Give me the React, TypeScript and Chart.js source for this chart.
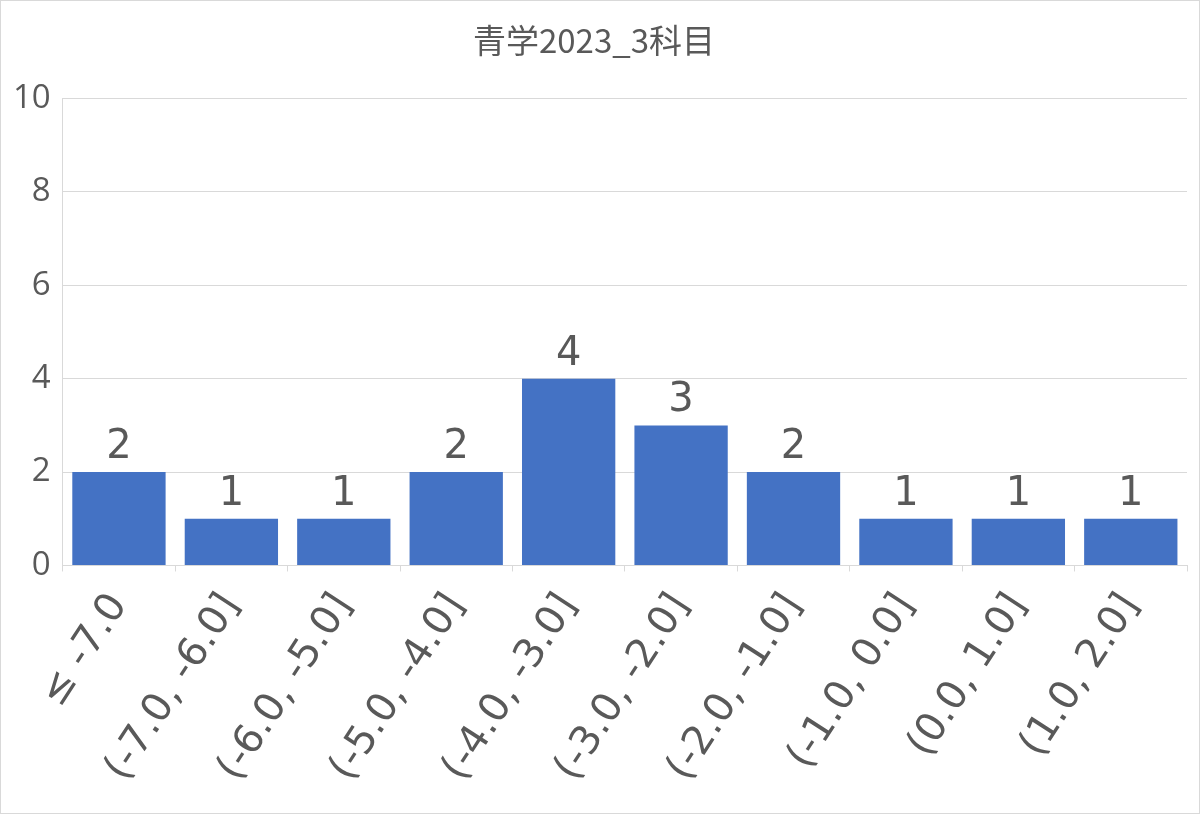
import React, { useEffect, useRef } from 'react';
import { Chart, registerables, Plugin } from 'chart.js';

Chart.register(...registerables);

const title = '青学2023_3科目';
const bins = [
  '≤ -7.0',
  '(-7.0, -6.0]',
  '(-6.0, -5.0]',
  '(-5.0, -4.0]',
  '(-4.0, -3.0]',
  '(-3.0, -2.0]',
  '(-2.0, -1.0]',
  '(-1.0, 0.0]',
  '(0.0, 1.0]',
  '(1.0, 2.0]',
];
const counts = [2, 1, 1, 2, 4, 3, 2, 1, 1, 1];

const TEXT = '#595959';
const GRID = '#d9d9d9';

// writes the count above every bar
const valueLabels: Plugin<'bar'> = {
  id: 'valueLabels',
  afterDatasetsDraw(chart) {
    const ctx = chart.ctx;
    const meta = chart.getDatasetMeta(0);
    ctx.save();
    ctx.fillStyle = TEXT;
    ctx.font = '40px "DejaVu Sans"';
    ctx.textAlign = 'center';
    ctx.textBaseline = 'alphabetic';
    meta.data.forEach((bar, i) => {
      ctx.fillText(String(counts[i]), bar.x, bar.y - 14);
    });
    ctx.restore();
  },
};

const App: React.FC = () => {
  const canvasRef = useRef<HTMLCanvasElement>(null);
  const chartRef = useRef<Chart>();

  useEffect(() => {
    document.body.style.margin = '0';
    if (!canvasRef.current) return;
    const ctx = canvasRef.current.getContext('2d');
    if (!ctx) return;
    if (chartRef.current) chartRef.current.destroy();

    chartRef.current = new Chart(ctx, {
      type: 'bar',
      data: {
        labels: bins,
        datasets: [
          {
            data: counts,
            backgroundColor: '#4472c4',
            barPercentage: 0.83,
            categoryPercentage: 1,
          },
        ],
      },
      options: {
        animation: false,
        responsive: true,
        maintainAspectRatio: false,
        layout: { padding: { top: 20, right: 12, left: 0, bottom: 9 } },
        plugins: {
          legend: { display: false },
          tooltip: { enabled: false },
          title: {
            display: true,
            text: title,
            color: TEXT,
            font: { family: '"Noto Sans CJK JP"', size: 33, weight: 'normal' },
            padding: { top: 0, bottom: 38 },
          },
        },
        scales: {
          x: {
            offset: true,
            border: { color: GRID, width: 1 },
            grid: {
              drawOnChartArea: false,
              color: GRID,
              tickLength: 6,
              offset: true,
            },
            ticks: {
              color: TEXT,
              font: { family: '"DejaVu Sans"', size: 40 },
              minRotation: 57,
              maxRotation: 57,
              padding: 14,
              autoSkip: false,
            },
          },
          y: {
            min: 0,
            max: 10,
            border: { color: GRID, width: 1 },
            grid: { color: GRID, drawTicks: false },
            ticks: {
              stepSize: 2,
              color: TEXT,
              font: { family: '"Open Sans"', size: 33 },
              padding: 12,
            },
          },
        },
      },
      plugins: [valueLabels],
    });

    return () => {
      if (chartRef.current) {
        chartRef.current.destroy();
        chartRef.current = undefined;
      }
    };
  }, []);

  return (
    <div
      style={{
        width: 1200,
        height: 814,
        boxSizing: 'border-box',
        border: '1px solid #d9d9d9',
        position: 'relative',
        background: '#fff',
      }}
    >
      <canvas ref={canvasRef}></canvas>
    </div>
  );
};

export default App;
